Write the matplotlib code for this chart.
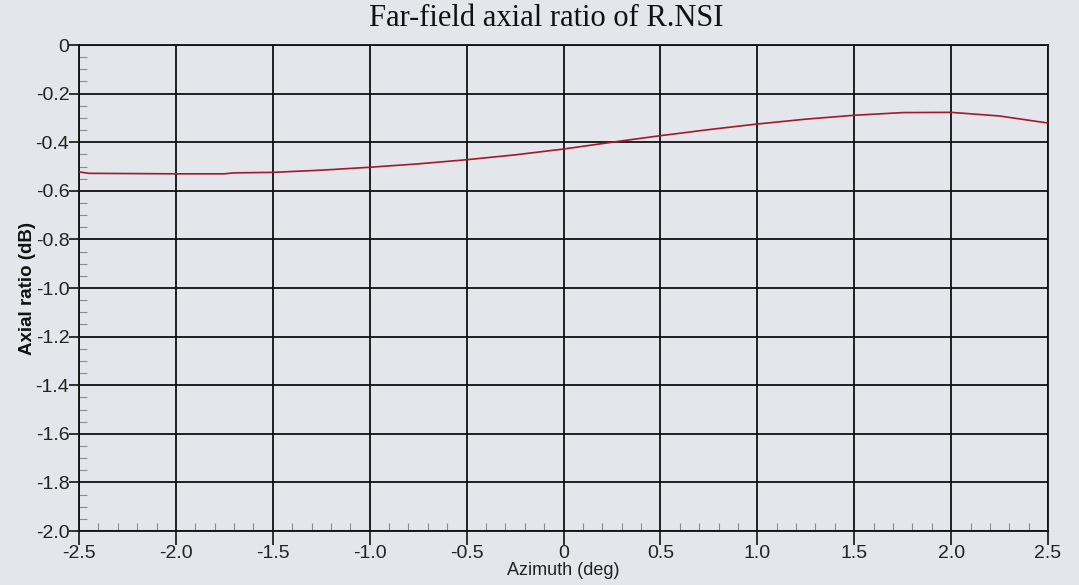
import numpy as np
import matplotlib.pyplot as plt
from matplotlib.ticker import MultipleLocator

# Axial ratio vs azimuth
azimuth = [-2.5, -2.45, -2.0, -1.75, -1.7, -1.5, -1.25, -1.0, -0.75, -0.5, -0.25,
           0.0, 0.25, 0.5, 0.75, 1.0, 1.25, 1.5, 1.75, 2.0, 2.25, 2.5]
axial_ratio = [-0.522, -0.528, -0.530, -0.530, -0.526, -0.524, -0.515, -0.503, -0.489,
               -0.472, -0.452, -0.428, -0.400, -0.373, -0.348, -0.325, -0.305, -0.289,
               -0.278, -0.277, -0.292, -0.321]

x_ticks = [-2.5, -2.0, -1.5, -1.0, -0.5, 0, 0.5, 1.0, 1.5, 2.0, 2.5]
x_labels = ["-2.5", "-2.0", "-1.5", "-1.0", "-0.5", "0", "0.5", "1.0", "1.5", "2.0", "2.5"]
y_ticks = [0, -0.2, -0.4, -0.6, -0.8, -1.0, -1.2, -1.4, -1.6, -1.8, -2.0]
y_labels = ["0", "-0.2", "-0.4", "-0.6", "-0.8", "-1.0", "-1.2", "-1.4", "-1.6", "-1.8", "-2.0"]

bg = "#e3e6ea"
plt.rcParams['font.family'] = ['Liberation Sans', 'DejaVu Sans']

fig = plt.figure(figsize=(10.79, 5.85), dpi=100, facecolor=bg)
ax = fig.add_axes([0.0732, 0.0923, 0.8981, 0.8307])
ax.set_facecolor(bg)

ax.plot(azimuth, axial_ratio, color="#a3182c", linewidth=1.2, zorder=3)

ax.set_xlim(-2.5, 2.5)
ax.set_ylim(-2.0, 0)
ax.set_xticks(x_ticks)
ax.set_xticklabels(x_labels)
ax.set_yticks(y_ticks)
ax.set_yticklabels(y_labels)
ax.xaxis.set_minor_locator(MultipleLocator(0.1))
ax.yaxis.set_minor_locator(MultipleLocator(0.05))

ax.grid(True, which="major", color="#111111", linewidth=1.3)
for s in ax.spines.values():
    s.set_color("#111111")
    s.set_linewidth(1.3)

ax.tick_params(axis="x", which="major", direction="out", length=10, width=1.3,
               labelsize=14, pad=0, colors="#222222")
ax.tick_params(axis="y", which="major", direction="out", length=7, width=1.3,
               labelsize=14, pad=0, colors="#222222")
ax.tick_params(which="minor", direction="in", length=6, width=0.8, color="#8a8c90")

ax.set_xlabel("Azimuth (deg)", fontsize=13, labelpad=0, color="#222222")
ax.set_ylabel("Axial ratio (dB)", fontsize=13.5, labelpad=0, color="#111111",
              fontweight="bold")

fig.text(546 / 1079, 1 - 18 / 585, "Far-field axial ratio of R.NSI",
         family=["Liberation Serif", "DejaVu Serif"], fontsize=22,
         ha="center", va="center", color="#111111")

fig.savefig("out.png", dpi=100, facecolor=bg)
